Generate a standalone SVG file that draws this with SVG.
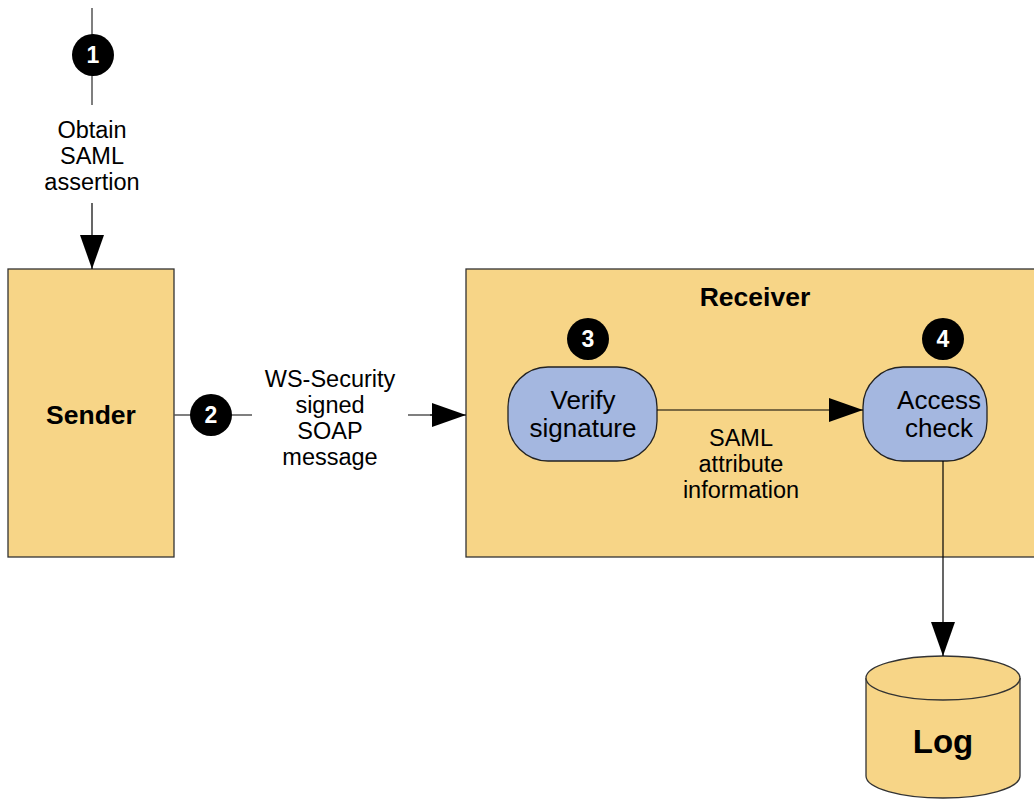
<svg xmlns="http://www.w3.org/2000/svg" width="1034" height="799" viewBox="0 0 1034 799">
<defs>
<style>
.box{fill:#F7D587;stroke:#333;stroke-width:1.3}
.proc{fill:#A4B7E0;stroke:#222;stroke-width:1.3}
.badge{fill:#000}
.num{font-family:"Liberation Sans",Arial,sans-serif;font-weight:bold;font-size:23px;fill:#fff;text-anchor:middle}
.lbl{font-family:"Liberation Sans",Arial,sans-serif;font-size:23.5px;fill:#000;text-anchor:middle}
.plbl{font-family:"Liberation Sans",Arial,sans-serif;font-size:26px;fill:#000;text-anchor:middle}
.bold{font-family:"Liberation Sans",Arial,sans-serif;font-weight:bold;font-size:26.5px;fill:#000;text-anchor:middle}
.ln{stroke:#000;stroke-width:1.2;fill:none}
.lg{stroke:#555;stroke-width:1.5;fill:none}
</style>
<marker id="ah" markerWidth="34" markerHeight="24" viewBox="0 0 34 24" refX="34" refY="12" orient="auto" markerUnits="userSpaceOnUse">
<path d="M0,0 L34,12 L0,24 Z" fill="#000"/>
</marker>
</defs>
<g id="sender"><rect class="box" x="8" y="269" width="166" height="288"/><text class="bold" x="91" y="424">Sender</text></g>
<g id="receiver"><rect class="box" x="466" y="269" width="580" height="288"/><text class="bold" x="755" y="306">Receiver</text></g>
<g id="verify"><rect class="proc" x="508" y="367" width="149" height="94" rx="40" ry="40"/><text class="plbl" x="583" y="409">Verify</text><text class="plbl" x="583" y="437">signature</text></g>
<g id="access"><rect class="proc" x="863" y="367" width="124" height="94" rx="40" ry="40"/><text class="plbl" x="939" y="409">Access</text><text class="plbl" x="939" y="437">check</text></g>
<g id="log"><path class="box" d="M866,678 L866,776 A77,22 0 0 0 1020,776 L1020,678"/><ellipse class="box" cx="943" cy="678" rx="77" ry="22"/><text class="bold" x="943" y="753" style="font-size:33px">Log</text></g>
<g id="connectors">
<line class="lg" x1="92" y1="8" x2="92" y2="105"/>
<line class="ln" x1="92" y1="203" x2="92" y2="269" marker-end="url(#ah)"/>
<line class="lg" x1="174" y1="415" x2="252" y2="415"/>
<line class="lg" x1="408" y1="415" x2="432" y2="415"/>
<line class="ln" x1="430" y1="415" x2="466" y2="415" marker-end="url(#ah)"/>
<line class="ln" x1="657" y1="410" x2="863" y2="410" marker-end="url(#ah)"/>
<line class="ln" x1="943" y1="461" x2="943" y2="656" marker-end="url(#ah)"/>
<text class="lbl" x="92" y="138">Obtain</text><text class="lbl" x="92" y="164">SAML</text><text class="lbl" x="92" y="190">assertion</text>
<text class="lbl" x="330" y="387">WS-Security</text><text class="lbl" x="330" y="413">signed</text><text class="lbl" x="330" y="439">SOAP</text><text class="lbl" x="330" y="465">message</text>
<text class="lbl" x="741" y="446">SAML</text><text class="lbl" x="741" y="472">attribute</text><text class="lbl" x="741" y="498">information</text>
</g>
<g id="badge1"><circle class="badge" cx="93" cy="55" r="21"/><text class="num" x="93" y="63">1</text></g>
<g id="badge2"><circle class="badge" cx="211" cy="415" r="21"/><text class="num" x="211" y="423">2</text></g>
<g id="badge3"><circle class="badge" cx="588" cy="339" r="21"/><text class="num" x="588" y="347">3</text></g>
<g id="badge4"><circle class="badge" cx="943" cy="339" r="21"/><text class="num" x="943" y="347">4</text></g>
</svg>
